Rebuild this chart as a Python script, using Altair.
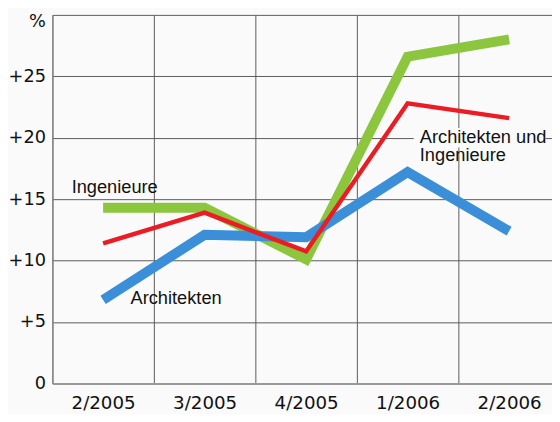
import altair as alt
import pandas as pd

periods = ["2/2005", "3/2005", "4/2005", "1/2006", "2/2006"]
ingenieure = [14.3, 14.3, 10.1, 26.6, 28.0]
architekten = [6.8, 12.1, 11.9, 17.2, 12.4]
beide = [11.4, 13.9, 10.75, 22.8, 21.6]

series_names = ["Ingenieure", "Architekten", "Architekten und Ingenieure"]
series_values = [ingenieure, architekten, beide]
series_colors = ["#8cc63f", "#3b8fd9", "#ec1c24"]
series_widths = [10, 10, 4.5]

label_texts = [["Ingenieure"], ["Architekten"], ["Architekten und", "Ingenieure"]]
label_x = [0.19, 0.77, 3.62]
label_y = [15.5, 6.45, 19.6]

BG = "#fafafa"
GRID = "#5a5a5a"

rows = []
for name, vals in zip(series_names, series_values):
    for i, v in enumerate(vals):
        rows.append({"series": name, "pos": i + 0.5, "value": v})
df = pd.DataFrame(rows)

label_expr = "[" + ",".join(f"'{p}'" for p in periods) + ",''][datum.value]"

xscale = alt.Scale(domain=[0, 5], range=[0, 515], nice=False, zero=False)
yscale = alt.Scale(domain=[0, 30], nice=False)

xaxis = alt.Axis(
    values=[0, 1, 2, 3, 4, 5], grid=True, gridColor=GRID, gridWidth=1, gridOpacity=1,
    ticks=False, domain=True, domainColor="#9a9a9a", domainWidth=2,
    labelExpr=label_expr, labelOffset=51.5, labelFlush=False, labelOverlap=False,
    labelFont="DejaVu Sans", labelFontSize=18.5,
    labelColor="#111", labelPadding=10, labelBaseline="top", title=None,
)
yaxis = alt.Axis(
    values=[0, 5, 10, 15, 20, 25, 30], grid=True, gridColor=GRID, gridWidth=1, gridOpacity=1,
    ticks=False, domain=True, domainColor="#8a8a8a", domainWidth=1.5,
    labelExpr="datum.value == 30 ? '%' : (datum.value == 0 ? '0' : '+' + datum.value)",
    labelBaseline="middle",
    labelOffset=alt.expr("datum.value == 30 ? 7 : 0"),
    labelFlush=False, labelOverlap=False,
    labelFont="DejaVu Sans", labelFontSize=18, labelColor="#111", labelPadding=7,
    title=None,
)

base = alt.Chart(df)
lines = []
for name, col, w in zip(series_names, series_colors, series_widths):
    lines.append(
        base.transform_filter(alt.datum.series == name)
        .mark_line(color=col, strokeWidth=w, strokeCap="butt", strokeJoin="miter")
        .encode(x=alt.X("pos:Q", scale=xscale, axis=xaxis),
                y=alt.Y("value:Q", scale=yscale, axis=yaxis))
    )

lab_df = pd.DataFrame({"text": label_texts, "lx": label_x, "ly": label_y})

box_df = pd.DataFrame({"x1": [3.56], "x2": [4.86], "y1": [19.2], "y2": [20.8]})
box = alt.Chart(box_df).mark_rect(color=BG).encode(
    x=alt.X("x1:Q", scale=xscale, axis=xaxis), x2="x2:Q",
    y=alt.Y("y1:Q", scale=yscale, axis=yaxis), y2="y2:Q",
)

labels = alt.Chart(lab_df).mark_text(
    align="left", baseline="alphabetic", font="Liberation Sans", fontSize=18.5,
    lineHeight=19, color="#111",
).encode(
    x=alt.X("lx:Q", scale=xscale, axis=xaxis),
    y=alt.Y("ly:Q", scale=yscale, axis=yaxis),
    text="text",
)

chart = alt.layer(box, *lines, labels).properties(
    width=507, height=374, background=BG,
    autosize=alt.AutoSizeParams(type="none"),
    padding={"left": 45, "top": 4, "right": 0, "bottom": 28},
).configure_view(stroke=None)

chart.save("out.html", embed_options={"renderer": "svg", "actions": False})
